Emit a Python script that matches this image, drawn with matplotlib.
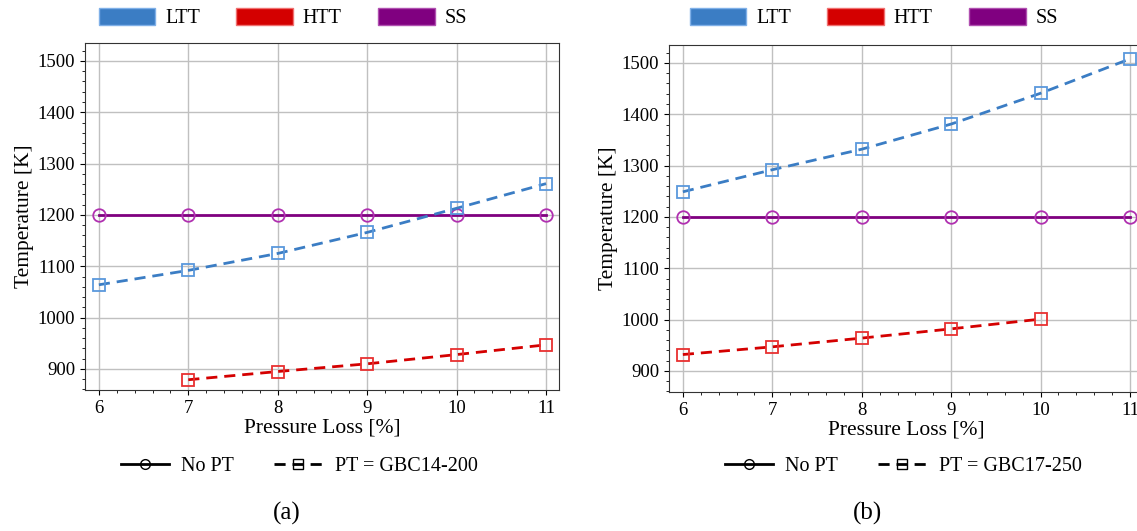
import matplotlib.pyplot as plt
from matplotlib.patches import Patch
from matplotlib.lines import Line2D
from matplotlib.ticker import MultipleLocator

plt.rcParams['font.family'] = ['Liberation Serif', 'DejaVu Serif']

loss = [6, 7, 8, 9, 10, 11]

# panel (a)
ltt_a = [1064, 1092, 1125, 1166, 1213, 1261]
htt_loss_a = [7, 8, 9, 10, 11]
htt_a = [879, 895, 910, 928, 947]
ss_a = [1200, 1200, 1200, 1200, 1200, 1200]

# panel (b)
ltt_b = [1249, 1292, 1332, 1381, 1441, 1508]
htt_loss_b = [6, 7, 8, 9, 10]
htt_b = [932, 947, 964, 982, 1001]
ss_b = [1200, 1200, 1200, 1200, 1200, 1200]

c_ltt = '#3b7dc4'
c_htt = '#d40000'
c_ss = '#800080'

fig = plt.figure(figsize=(11.37, 5.31), dpi=100)
W, H = 1137, 531

def panel(left, top_px, ltt, htt_x, htt, ss, pt_name, caption, top_cx, bot_cx, cap_cx):
    ax = fig.add_axes([left / W, (H - top_px - 347) / H, 474 / W, 347 / H])
    ax.plot(loss, ss, color=c_ss, lw=2, marker='o', ms=9, mfc='none', mec='#b030b0', mew=1.3)
    ax.plot(loss, ltt, color=c_ltt, lw=2, ls=(0, (4, 2.5)), marker='s', ms=9, mfc='none', mec='#5a98dc', mew=1.3)
    ax.plot(htt_x, htt, color=c_htt, lw=2, ls=(0, (4, 2.5)), marker='s', ms=9, mfc='none', mec='#e83030', mew=1.3)
    ax.set_xlim(5.845, 11.145)
    ax.set_ylim(859, 1535)
    ax.set_yticks([900, 1000, 1100, 1200, 1300, 1400, 1500])
    ax.set_xticks(loss)
    ax.xaxis.set_minor_locator(MultipleLocator(0.2))
    ax.yaxis.set_minor_locator(MultipleLocator(20))
    ax.grid(True, color='#c0c0c0', lw=1)
    ax.set_axisbelow(True)
    ax.tick_params(labelsize=13.5)
    for s in ax.spines.values():
        s.set_color('#333333')
    ax.set_xlabel('Pressure Loss [%]', fontsize=15.5, labelpad=1)
    ax.set_ylabel('Temperature [K]', fontsize=15.5, labelpad=3)

    top = [Patch(facecolor=c_ltt, edgecolor='#7fb0e8', label='LTT'),
           Patch(facecolor=c_htt, edgecolor='#f07070', label='HTT'),
           Patch(facecolor=c_ss, edgecolor='#b050b0', label='SS')]
    fig.legend(handles=top, loc='center', bbox_to_anchor=(top_cx / W, (H - 18) / H), ncol=3,
               frameon=False, fontsize=14.5, handlelength=2.8, handleheight=0.9,
               handletextpad=0.5, columnspacing=1.8, borderpad=0)

    bottom = [Line2D([], [], color='black', lw=2, marker='o', ms=7, mfc='none', label='No PT'),
              Line2D([], [], color='black', lw=2, ls=(0, (4, 2.5)), marker='s', ms=7, mfc='none',
                     label='PT = ' + pt_name)]
    fig.legend(handles=bottom, loc='center', bbox_to_anchor=(bot_cx / W, (H - 466) / H),
               ncol=2, frameon=False, fontsize=14.5, handlelength=2.4, handletextpad=0.6,
               columnspacing=2.0, borderpad=0)
    fig.text(cap_cx / W, (H - 513) / H, caption, ha='center', va='center', fontsize=18)
    return ax

panel(85, 43, ltt_a, htt_loss_a, htt_a, ss_a, 'GBC14-200', '(a)', 283, 299, 287)
panel(669, 45, ltt_b, htt_loss_b, htt_b, ss_b, 'GBC17-250', '(b)', 874, 903, 868)

fig.savefig('out.png', dpi=100)
